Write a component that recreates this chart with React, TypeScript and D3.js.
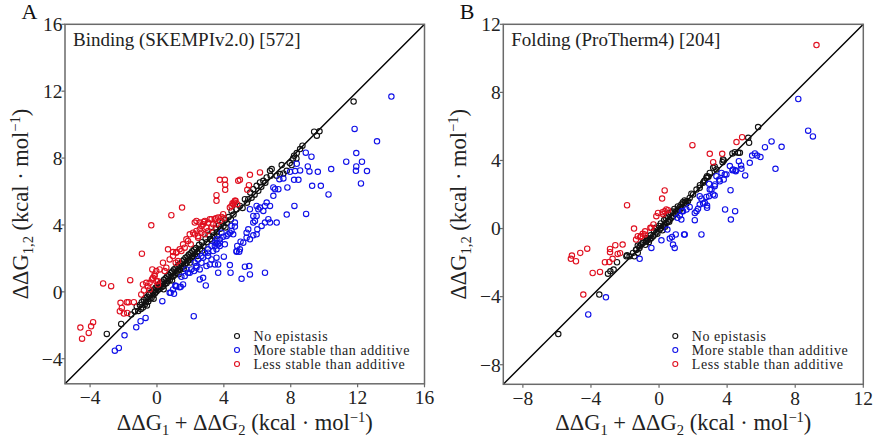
import React from "react";
import * as d3 from "d3";

// ---------- Panel A: Binding (SKEMPIv2.0) ----------
const aDomain: [number, number] = [-5.5, 16];
const aTicks = [-4, 0, 4, 8, 12, 16];
const aNone: [number, number][] = [
  [-3.0, -2.52], [-2.14, -1.92], [-1.54, -1.36], [-1.32, -1.18], [-1.21, -0.88], [-1.12, -1.14], [-1.02, -0.78], [-0.96, -1.02],
  [-0.91, -0.62], [-0.84, -0.93], [-0.79, -0.48], [-0.73, -0.77], [-0.68, -0.36], [-0.66, -0.62], [-0.58, -0.31], [-0.52, -0.58],
  [-0.49, -0.17], [-0.44, -0.41], [-0.38, -0.06], [-0.33, -0.37], [-0.27, 0.04], [-0.22, -0.21], [-0.18, 0.13], [-0.12, -0.08],
  [-0.08, 0.24], [-0.03, 0.02], [0.02, 0.31], [0.07, 0.12], [0.11, 0.42], [0.16, 0.18], [0.21, 0.53], [0.26, 0.27],
  [0.31, 0.61], [0.37, 0.33], [0.42, 0.72], [0.46, 0.47], [0.52, 0.81], [0.57, 0.52], [0.61, 0.93], [0.66, 0.64],
  [0.71, 1.02], [0.77, 0.71], [0.82, 1.13], [0.86, 0.88], [0.91, 1.21], [0.97, 0.93], [1.02, 1.34], [1.06, 1.02],
  [1.11, 1.41], [1.17, 1.13], [1.22, 1.52], [1.26, 1.27], [1.31, 1.63], [1.37, 1.32], [1.42, 1.71], [1.46, 1.44],
  [1.52, 1.83], [1.57, 1.52], [1.61, 1.92], [1.66, 1.63], [1.71, 2.04], [1.77, 1.72], [1.82, 2.11], [1.86, 1.87],
  [1.91, 2.23], [1.97, 1.92], [2.02, 2.31], [2.07, 2.06], [2.11, 2.42], [2.16, 2.13], [2.22, 2.53], [2.27, 2.24],
  [2.33, 2.62], [2.41, 2.38], [2.52, 2.81], [2.58, 2.57], [2.69, 2.97], [2.78, 2.76], [2.91, 3.18], [2.98, 2.97],
  [3.09, 3.41], [3.18, 3.16], [3.31, 3.58], [3.39, 3.37], [3.52, 3.79], [3.58, 3.56], [3.71, 3.98], [3.79, 3.77],
  [3.92, 4.16], [3.98, 3.93], [4.08, 4.31], [4.17, 4.12], [4.28, 4.47], [4.42, 4.33], [4.46, 4.84], [4.58, 4.62],
  [4.76, 4.94], [4.96, 5.14], [5.12, 5.02], [5.26, 5.54], [5.38, 5.33], [5.46, 5.54], [5.58, 5.94], [5.66, 5.62],
  [5.76, 6.14], [5.84, 5.81], [5.96, 6.34], [6.06, 6.04], [6.16, 6.54], [6.24, 6.28], [6.36, 6.64], [6.48, 6.52],
  [6.56, 6.84], [6.76, 7.24], [6.8, 6.94], [6.86, 7.34], [7.16, 6.94], [7.36, 7.04], [7.46, 7.58], [7.56, 7.08],
  [7.76, 7.24], [7.94, 7.7], [8.06, 7.58], [8.14, 7.98], [8.34, 7.98], [8.2, 8.14], [8.36, 8.3], [8.56, 8.54],
  [8.7, 8.74], [9.4, 9.58], [9.56, 9.34], [9.72, 9.6], [11.76, 11.38],
  [0.4, 0.15], [1.3, 1.05], [2.0, 1.75], [2.7, 2.45], [3.3, 3.05], [1.6, 1.38], [0.9, 0.68], [-0.2, -0.42],
  [2.4, 2.15], [3.6, 3.35], [4.1, 3.85], [-0.6, -0.82],
];
const aMore: [number, number][] = [
  [14.02, 11.68], [11.82, 9.74], [13.16, 9.0], [11.92, 8.3], [11.32, 7.78], [12.26, 7.78], [11.92, 7.5], [12.56, 7.22],
  [11.9, 7.24], [12.2, 6.48], [10.42, 7.34], [10.26, 5.82], [9.8, 6.34], [9.28, 6.34], [9.62, 7.18], [9.24, 8.08],
  [8.9, 8.32], [9.02, 7.5], [9.12, 7.2], [8.92, 4.66], [8.22, 5.14], [7.76, 4.62], [8.56, 7.26], [8.26, 7.22],
  [7.96, 7.18], [8.36, 7.66], [7.8, 6.24], [7.26, 6.14], [7.56, 6.78], [7.32, 6.74], [8.2, 6.7], [8.46, 6.7],
  [6.96, 6.24], [6.96, 5.74], [6.76, 5.14], [7.16, 4.14], [6.76, 4.14],
  [6.46, 1.14], [5.56, 1.04], [5.52, 1.54], [5.26, 1.5], [5.06, 0.78], [4.4, 1.14], [4.36, 1.6], [3.66, 1.14],
  [3.66, 1.64], [3.46, 1.64], [3.56, 2.04], [4.0, 2.1], [4.76, 2.44], [4.8, 2.74], [4.96, 2.54], [5.16, 2.94],
  [5.36, 3.24], [5.56, 3.14], [5.76, 3.38], [5.96, 3.44], [6.0, 3.74], [6.26, 3.94], [6.46, 4.14], [6.66, 4.34],
  [5.56, 4.94], [5.76, 4.54], [5.96, 5.14], [6.16, 5.04], [6.36, 4.84], [7.06, 6.14],
  [1.56, 0.44], [1.16, 0.34], [0.96, 0.14], [0.76, -0.06], [2.92, 0.38], [2.56, 0.74], [2.76, 0.84], [2.06, 1.34],
  [1.86, 1.14], [2.36, 1.44], [2.26, 1.74], [2.46, 1.94], [2.66, 2.14], [2.86, 2.34], [3.06, 2.54], [3.26, 2.74],
  [3.46, 2.94], [3.06, 2.14], [3.26, 1.94], [3.56, 2.54], [3.76, 2.74], [4.06, 2.84], [3.56, 2.94], [3.76, 3.14],
  [3.96, 3.3], [4.26, 3.44], [4.46, 3.64], [4.66, 3.9],
  [3.46, 2.74], [3.66, 2.84], [3.56, 3.14], [3.76, 2.94], [3.36, 2.44], [3.06, 2.34], [2.76, 2.04], [2.66, 1.74],
  [2.96, 1.54], [3.16, 1.64], [2.56, 1.34], [2.36, 1.54], [2.22, 1.24], [1.96, 1.14], [1.76, 1.34], [1.66, 0.94],
  [1.46, 0.9], [2.2, -1.46], [0.32, -0.56], [0.82, -0.06], [1.02, -0.12], [1.12, 0.34], [1.42, 0.3], [1.36, 0.28],
  [1.1, 0.38], [-2.52, -3.52], [-2.28, -3.36], [-1.94, -2.6], [-1.24, -2.12], [-0.98, -1.76], [-0.68, -1.56],
  [4.76, 2.4], [4.92, 2.4], [5.0, 3.0], [5.36, 3.54], [5.46, 3.74], [5.76, 4.14], [5.86, 4.24], [5.96, 4.54],
  [6.06, 4.94], [6.46, 5.14], [6.56, 5.34], [4.36, 3.54], [4.56, 3.44], [4.46, 3.94], [4.66, 4.14], [4.16, 3.34],
  [3.86, 3.54],
];
const aLess: [number, number][] = [
  [-4.58, -2.14], [-4.48, -2.8], [-4.08, -2.46], [-3.94, -2.06], [-3.82, -1.82], [-3.22, 0.5], [-2.74, 0.34], [-1.6, 0.7],
  [-0.9, 2.28], [-2.18, -0.66], [-2.1, -0.96], [-2.22, -1.16], [-1.98, -1.3], [-1.78, -1.26], [-1.8, -0.62], [-1.7, -0.62],
  [-1.38, -0.62], [-0.28, 1.34], [-0.84, 0.44], [-0.64, 0.54], [-0.54, 0.34], [-0.44, 0.14], [-0.3, 0.74], [-0.14, 0.94],
  [-0.04, 0.64], [0.06, 0.44], [0.46, 1.24], [0.56, 1.44], [0.66, 2.54], [0.96, 2.38], [1.16, 2.38], [1.46, 2.44],
  [1.66, 2.64], [1.86, 3.04], [2.02, 2.84], [1.26, 1.84], [1.12, 1.74], [-0.94, -0.16], [-0.78, 0.08],
  [-0.34, 3.98], [0.86, 4.58], [1.5, 5.04], [3.76, 6.7], [4.06, 6.7], [4.08, 6.4], [4.08, 6.1], [3.56, 5.78],
  [3.56, 5.44], [4.86, 6.64], [4.96, 6.7], [5.56, 7.0], [6.16, 7.14], [5.5, 6.38], [5.4, 6.1], [4.62, 5.34],
  [4.52, 5.3], [4.46, 5.14], [4.7, 5.44], [4.36, 5.04],
  [2.36, 4.24], [2.26, 4.14], [2.86, 4.24], [2.76, 4.04], [2.96, 3.84], [3.26, 4.34], [3.46, 4.34], [3.66, 4.44],
  [3.86, 4.48], [3.96, 4.64], [3.36, 4.04], [2.56, 3.74], [2.36, 3.64], [2.16, 3.54], [1.96, 3.44], [2.46, 3.34],
  [1.76, 3.14], [1.56, 2.84], [1.36, 2.54], [1.16, 2.34], [0.96, 2.14], [0.76, 1.94], [0.36, 1.74], [0.16, 1.34],
  [-0.04, 1.24], [-0.14, 1.04], [-0.24, 0.84], [0.06, 0.64], [-0.44, 0.54],
  [2.26, 3.44], [2.46, 3.24], [2.66, 3.54], [2.86, 3.44], [3.06, 3.64], [3.26, 3.84], [3.56, 4.04], [3.76, 4.24],
  [4.0, 4.4], [3.06, 4.14], [2.66, 3.94], [2.56, 4.14], [2.8, 4.18], [3.16, 4.34], [3.52, 4.4],
  [4.56, 5.24], [4.8, 5.24], [4.66, 5.44],
];

// ---------- Panel B: Folding (ProTherm4) ----------
const bDomain: [number, number] = [-9.15, 12];
const bTicks = [-8, -4, 0, 4, 8, 12];
const bNone: [number, number][] = [
  [-5.92, -6.2], [-3.51, -3.88], [-3.0, -2.65], [-2.86, -2.51], [-2.67, -2.41], [-2.47, -1.98], [-1.88, -1.57], [-1.45, -1.63],
  [-1.25, -1.43], [-1.35, -1.24], [-1.15, -1.14], [-1.25, -1.0], [-1.05, -0.94], [-0.96, -0.84], [-0.76, -0.75], [-0.66, -0.65],
  [5.82, 5.96], [5.24, 5.33], [4.65, 4.45], [4.45, 4.49], [3.76, 4.06], [3.73, 3.9], [3.37, 3.47], [3.27, 3.63],
  [2.98, 3.27], [2.82, 3.08], [2.69, 2.82], [2.59, 2.69], [2.39, 2.39], [2.2, 2.29], [2.0, 2.0], [1.8, 1.8],
  [1.61, 1.61], [1.51, 1.51], [1.31, 1.41], [1.22, 1.27], [1.12, 1.12], [1.02, 1.02], [0.92, 0.88], [0.82, 0.73],
  [0.73, 0.63], [0.63, 0.53], [0.53, 0.43], [0.43, 0.33], [0.33, 0.24], [0.24, 0.14], [0.14, 0.04], [0.04, -0.06],
  [-0.16, -0.22], [-0.25, -0.35], [-0.35, -0.45], [-0.45, -0.55], [-0.55, -0.65], [-0.75, -0.75], [-0.94, -0.84], [-1.14, -1.04],
  [-1.33, -1.24], [-1.53, -1.43], [-1.73, -1.63], [-1.92, -1.63],
  [4.31, 4.41], [4.75, 4.45], [5.29, 5.04], [3.8, 4.0], [3.18, 3.57], [2.78, 2.98], [2.65, 2.78],
  [0.1, 0.3], [0.3, 0.5], [0.5, 0.7], [0.7, 0.95], [0.9, 1.15], [1.1, 1.3], [1.3, 1.2], [1.5, 1.65],
  [1.7, 1.6], [0.2, -0.1], [-0.1, -0.3], [0.6, 0.4], [1.0, 0.85], [-0.3, -0.15], [-0.5, -0.4], [-0.7, -0.55],
  [0.4, 0.6], [0.8, 1.0], [1.2, 1.05], [1.9, 2.05], [2.4, 2.55], [2.9, 3.05], [-0.2, 0.05], [0.0, 0.15],
  [-0.6, -0.8], [-0.8, -0.95], [0.35, 0.1], [0.55, 0.9], [1.4, 1.55], [1.6, 1.45],
];
const bMore: [number, number][] = [
  [8.18, 7.61], [8.76, 5.75], [9.04, 5.41], [6.61, 5.12], [6.22, 4.78], [7.2, 4.8], [5.63, 4.41], [5.47, 4.29],
  [5.76, 4.29], [5.96, 4.2], [4.16, 3.67], [4.69, 3.96], [4.82, 3.71], [4.31, 3.43], [4.49, 3.43], [5.06, 3.12],
  [6.84, 3.51], [3.86, 3.18], [4.2, 2.25], [3.88, 1.12], [4.47, 1.02], [4.22, 0.53],
  [5.33, 3.86], [4.84, 3.51], [4.35, 3.47], [4.51, 3.37], [3.96, 3.18], [3.8, 2.88], [3.57, 2.78], [3.37, 3.08],
  [3.27, 2.49], [2.94, 2.63], [3.08, 2.29], [2.94, 1.9], [2.78, 1.86], [2.49, 1.75], [2.59, 1.47], [2.82, 1.35],
  [2.82, 1.22], [2.39, 1.41], [2.29, 1.16], [2.2, 1.02], [1.8, 1.27], [1.61, 1.12], [1.41, 1.02], [1.31, 0.53],
  [1.22, 0.76], [3.27, 1.94], [2.1, 0.92], [2.1, 0.49], [2.49, -0.35], [1.51, -0.35], [0.98, -0.35], [0.82, -0.94],
  [0.92, -1.14], [0.63, -0.59], [0.14, -0.69], [-0.45, -1.14], [-1.14, -1.78], [-3.12, -4.04], [-4.16, -5.05],
  [0.49, -0.06], [1.08, 0.63], [1.35, 1.02], [0.76, -0.49], [1.47, -0.35], [2.39, 1.9], [2.69, 1.51], [2.98, 2.29],
  [3.18, 2.0], [3.29, 2.59], [3.53, 2.88], [3.67, 3.27],
];
const bLess: [number, number][] = [
  [9.25, 10.78], [1.96, 4.9], [2.98, 4.39], [3.18, 3.9], [3.71, 4.39], [4.55, 5.08], [4.88, 5.37], [0.33, 2.24],
  [0.18, 1.76], [-1.88, 1.37], [-0.16, 0.73], [-0.06, 0.92], [0.2, 0.96], [0.33, 1.02], [0.43, 1.12], [0.53, 1.08],
  [0.24, 0.84], [-1.47, 0.0], [-1.1, -0.49], [-0.84, -0.35], [-0.45, 0.04], [-0.33, 0.24],
  [-5.12, -1.59], [-5.18, -1.78], [-4.88, -1.92], [-4.63, -1.43], [-4.22, -1.18], [-3.9, -2.61], [-3.47, -2.55], [-3.18, -1.98],
  [-2.88, -1.2], [-2.88, -1.39], [-2.92, -1.96], [-2.73, -1.78], [-2.57, -0.98], [-2.43, -1.49], [-2.29, -1.45], [-2.14, -0.94],
  [-4.45, -3.88], [-1.35, -0.65], [-1.25, -0.45], [-1.06, -0.45], [-0.96, -0.31], [-0.82, -0.16], [-0.51, 0.04],
];

const legendLabels = ["No epistasis", "More stable than additive", "Less stable than additive"];
const seriesColors = ["#111111", "#1010e8", "#e01020"];

const FONT = "Liberation Serif";

type PanelProps = {
  left: number;
  top: number;
  size: number;
  domain: [number, number];
  ticks: number[];
  series: [number, number][][];
  title: string;
  letter: string;
};

function fmt(v: number) {
  return v < 0 ? "\u2212" + Math.abs(v) : String(v);
}

function Panel({ left, top, size, domain, ticks, series, title, letter }: PanelProps) {
  const x = d3.scaleLinear().domain(domain).range([left, left + size]);
  const y = d3.scaleLinear().domain(domain).range([top + size, top]);
  const spine = "#6a6a6a";
  const cy = top + size / 2;
  const cx = left + size / 2;
  const ts = { fontFamily: FONT };
  return (
    <g style={ts}>
      <text x={left - 43.5} y={18.5} fontSize={22} fill="#111">{letter}</text>
      <line x1={x(domain[0])} y1={y(domain[0])} x2={x(domain[1])} y2={y(domain[1])} stroke="#000" strokeWidth={1.4} />
      {[0, 1, 2].map((si) => (
        <g key={si}>
          {series[si].map((d, i) => (
            <circle key={i} cx={x(d[0])} cy={y(d[1])} r={2.7} fill="none" stroke={seriesColors[si]} strokeWidth={1.1} />
          ))}
        </g>
      ))}
      <rect x={left} y={top} width={size} height={size} fill="none" stroke={spine} strokeWidth={1.5} />
      {ticks.map((t) => (
        <g key={"x" + t}>
          <line x1={x(t)} x2={x(t)} y1={top + size} y2={top + size + 3.5} stroke={spine} strokeWidth={1.2} />
          <text x={x(t)} y={top + size + 20.5} textAnchor="middle" fontSize={19.5} fill="#222">{fmt(t)}</text>
          <line x1={left - 3.5} x2={left} y1={y(t)} y2={y(t)} stroke={spine} strokeWidth={1.2} />
          <text x={left - 2.5} y={y(t)} dy="0.35em" textAnchor="end" fontSize={19.5} fill="#222">{fmt(t)}</text>
        </g>
      ))}
      <text x={left + 8} y={top + 22} fontSize={19} fill="#222">{title}</text>
      {legendLabels.map((lab, i) => (
        <g key={lab}>
          <circle cx={left + 172} cy={336 + i * 14} r={2.5} fill="none" stroke={seriesColors[i]} strokeWidth={1.1} />
          <text x={left + 188.5} y={340.5 + i * 14} fontSize={14} letterSpacing={0.55} fill="#222">{lab}</text>
        </g>
      ))}
      <text x={cx} y={430} textAnchor="middle" fontSize={22.5} fill="#222">
        ΔΔG<tspan dy={5} fontSize={14.5}>1</tspan><tspan dy={-5}> + ΔΔG</tspan><tspan dy={5} fontSize={14.5}>2</tspan>
        <tspan dy={-5}> (kcal · mol</tspan><tspan dy={-8} fontSize={14.5}>−1</tspan><tspan dy={8}>)</tspan>
      </text>
      <text transform={`translate(${left - 37},${cy}) rotate(-90)`} textAnchor="middle" fontSize={22.5} fill="#222">
        ΔΔG<tspan dy={5} fontSize={14.5}>1,2</tspan><tspan dy={-5}> (kcal · mol</tspan><tspan dy={-8} fontSize={14.5}>−1</tspan><tspan dy={8}>)</tspan>
      </text>
    </g>
  );
}

export default function App() {
  return (
    <svg width={875} height={438} style={{ position: "absolute", left: 0, top: 0, background: "#fff" }}>
      <rect x={0} y={0} width={875} height={438} fill="#fff" />
      <Panel left={65} top={24.3} size={359.5} domain={aDomain} ticks={aTicks} series={[aNone, aMore, aLess]} title="Binding (SKEMPIv2.0) [572]" letter="A" />
      <Panel left={503.3} top={24.3} size={360} domain={bDomain} ticks={bTicks} series={[bNone, bMore, bLess]} title="Folding (ProTherm4) [204]" letter="B" />
    </svg>
  );
}
